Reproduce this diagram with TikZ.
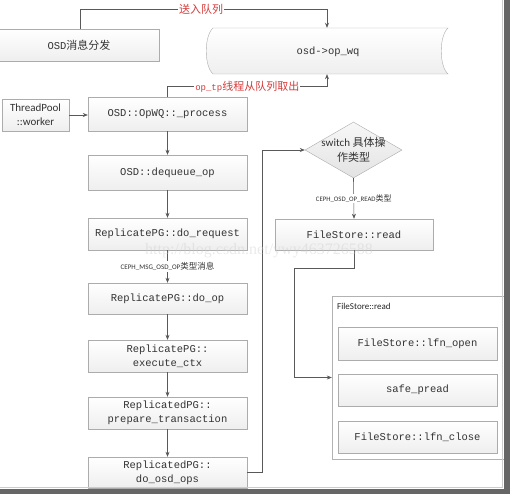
\documentclass[tikz,border=0pt]{standalone}
\usepackage{fontspec}
\setmonofont{Liberation Mono}
\setsansfont{Carlito}
\setmainfont{Liberation Serif}
\newfontfamily\cjk{Noto Sans CJK SC}
\usetikzlibrary{arrows.meta,shapes.geometric,shadows}
\definecolor{lblred}{RGB}{214,58,58}
\begin{document}
\begin{tikzpicture}[x=1pt,y=-1pt,
  box/.style={draw=gray!65, top color=white, bottom color=gray!13, text=black!80,
    font=\fontsize{10.5}{14}\selectfont\ttfamily, align=center, inner sep=1pt,
    drop shadow={opacity=0.18, shadow xshift=1pt, shadow yshift=-1pt}},
  dia/.style={diamond, draw=gray!65, top color=gray!6, bottom color=gray!22, inner sep=0pt},
  cont/.style={draw=gray!60, fill=white, inner sep=0pt},
  conn/.style={draw=black!65, line width=0.6pt},
  arr/.style={conn, -{Stealth[length=5pt,width=4pt]}},
  redlbl/.style={fill=white, text=lblred, inner sep=1pt},
  smalllbl/.style={fill=white, text=black!80, inner sep=1pt},
]
\useasboundingbox (0,0) rectangle (510,494);
\fill[white] (0,0) rectangle (510,494);

% queue shape
\node[minimum width=242pt, minimum height=46pt, inner sep=0pt] (q) at (327,51) {};
\draw[draw=gray!65, top color=white, bottom color=gray!13]
  (213,28) -- (448,28) .. controls (439,36) and (439,66) .. (448,74)
  -- (213,74) .. controls (204,66) and (204,36) .. (213,28) -- cycle;
\node[text=black!80, font=\fontsize{10.5}{14}\selectfont\ttfamily] at (328,52) {osd->op\_wq};

% left column
\node[box, minimum width=160pt, minimum height=32pt] (osd) at (79,45) {OSD{\cjk\fontsize{11}{14}\selectfont 消息分发}};
\node[box, minimum width=67pt, minimum height=32pt, font=\fontsize{11}{14}\selectfont\sffamily] (tp) at (35.5,115) {ThreadPool\\::worker};
\node[box, minimum width=159pt, minimum height=34pt] (proc) at (167.5,114) {OSD::OpWQ::\_process};
\node[box, minimum width=159pt, minimum height=35pt] (deq) at (167.5,172.5) {OSD::dequeue\_op};
\node[box, minimum width=159pt, minimum height=32pt] (req) at (167.5,234) {ReplicatePG::do\_request};
\node[box, minimum width=159pt, minimum height=31pt] (doop) at (167.5,298.5) {ReplicatePG::do\_op};
\node[box, minimum width=159pt, minimum height=32pt] (exec) at (167.5,356) {ReplicatePG::\\execute\_ctx};
\node[box, minimum width=159pt, minimum height=32pt] (prep) at (167.5,413) {ReplicatedPG::\\prepare\_transaction};
\node[box, minimum width=159pt, minimum height=31pt] (dosd) at (167.5,472.5) {ReplicatedPG::\\do\_osd\_ops};

% right column
\node[dia, minimum width=97pt, minimum height=56pt] (dia) at (353.5,150) {};
\node[align=center, text=black!80, font=\fontsize{11}{15}\selectfont\sffamily, inner sep=0pt] (diat) at (dia) {switch {\cjk 具体操}\\{\cjk 作类型}};
\node[box, minimum width=158pt, minimum height=31pt] (fsr) at (354,234.5) {FileStore::read};
\node[cont, minimum width=172pt, minimum height=163pt] (cont) at (418,377.5) {};
\node[anchor=west, text=black!85, font=\fontsize{9}{12}\selectfont\sffamily, inner sep=0pt] (contl) at (337,306.5) {FileStore::read};
\node[box, minimum width=159pt, minimum height=33pt] (open) at (417.5,343.5) {FileStore::lfn\_open};
\node[box, minimum width=159pt, minimum height=32pt] (pread) at (417.5,390) {safe\_pread};
\node[box, minimum width=159pt, minimum height=32pt] (close) at (417.5,437) {FileStore::lfn\_close};

% connectors
\draw[arr] (osd.north -| 80,0) -- (80,9) -| node[pos=0.245, redlbl, font=\cjk\fontsize{11}{13}\selectfont] {送入队列} (q.north);
\draw[arr] (proc.north) -- ++(0,-10) -| node[pos=0.25, redlbl] {{\ttfamily\fontsize{9}{12}\selectfont op\_tp}{\cjk\fontsize{11}{13}\selectfont 线程从队列取出}} (q.south);
\draw[arr] (tp.east) -- (tp.east -| proc.west);
\draw[arr] (proc.south) -- (deq.north);
\draw[arr] (deq.south) -- (req.north);
\draw[arr] (req.south) -- node[pos=0.5, smalllbl] {{\sffamily\fontsize{7}{9}\selectfont CEPH\_MSG\_OSD\_OP}{\cjk\fontsize{8.5}{9}\selectfont 类型消息}} (doop.north);
\draw[arr] (doop.south) -- (exec.north);
\draw[arr] (exec.south) -- (prep.north);
\draw[arr] (prep.south) -- (dosd.north);
\draw[arr] (dosd.east) -- ++(15,0) |- (dia.west);
\draw[arr] (dia.south) -- node[pos=0.5, smalllbl] {{\sffamily\fontsize{6.8}{9}\selectfont CEPH\_OSD\_OP\_READ}{\cjk\fontsize{8}{9}\selectfont 类型}} (fsr.north);
\coordinate (c1) at (294,268);
\draw[arr] (fsr.south) |- (c1) |- (cont.west);

% watermark
\node[text=gray!40, opacity=0.4, font=\fontsize{16}{18}\selectfont\rmfamily, inner sep=0pt] (wm) at (259,251) {http://blog.csdn.net/ywy463726588};

% frame
\fill[black!60] (504,0) rectangle (510,494);
\fill[black!60] (0,489) rectangle (510,494);
\draw[gray!40, line width=0.8pt] (502.5,0) -- (502.5,487.5) -- (0,487.5);
\end{tikzpicture}
\end{document}
